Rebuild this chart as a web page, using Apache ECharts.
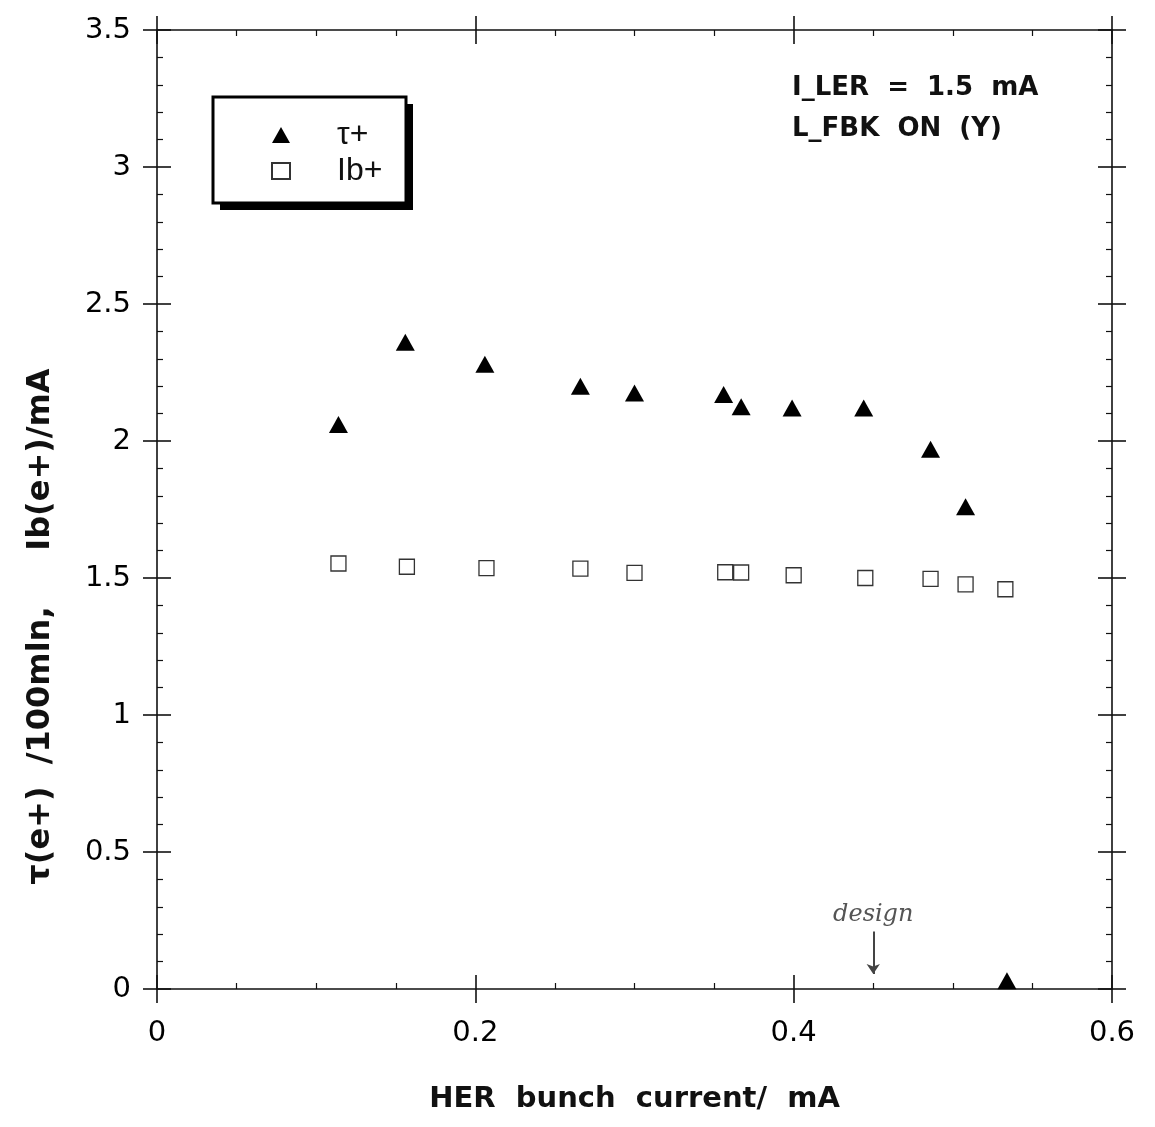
<!DOCTYPE html>
<html>
<head>
<meta charset="utf-8">
<script src="https://cdn.jsdelivr.net/npm/echarts@6/dist/echarts.min.js"></script>
<style>
  html, body { margin: 0; background: #fff; }
  #chart { width: 1155px; height: 1127px; }
</style>
</head>
<body>
<div id="chart"></div>
<script>
// tau(e+) per 100 min
const tauX = [0.114, 0.156, 0.206, 0.266, 0.300, 0.356, 0.367, 0.399, 0.444, 0.486, 0.508, 0.534]
const tauY = [2.06, 2.36, 2.28, 2.20, 2.175, 2.17, 2.125, 2.12, 2.12, 1.97, 1.76, 0.03]
// Ib(e+) / mA
const ibX = [0.114, 0.157, 0.207, 0.266, 0.300, 0.357, 0.367, 0.400, 0.445, 0.486, 0.508, 0.533]
const ibY = [1.553, 1.541, 1.536, 1.534, 1.519, 1.521, 1.520, 1.51, 1.50, 1.497, 1.477, 1.459]
// hand written "design" arrow
const designX = 0.45
const designArrow = [0.21, 0.055]

const ink = '#111'
const lineStyle = { color: ink, width: 1.6 }

function axisPair(dim, gridIndex, position, outer) {
  const isX = dim === 'x'
  return {
    type: 'value',
    gridIndex: gridIndex,
    position: position,
    min: 0,
    max: isX ? 0.6 : 3.5,
    interval: isX ? 0.2 : 0.5,
    axisLine: { show: !outer, onZero: false, lineStyle: lineStyle },
    axisTick: { show: true, inside: !outer, length: 14, lineStyle: lineStyle },
    minorTick: { show: !outer, splitNumber: isX ? 4 : 5, length: 6, lineStyle: { color: ink, width: 1.2 } },
    axisLabel: { show: false },
    splitLine: { show: false },
    minorSplitLine: { show: false }
  }
}

const chart = echarts.init(document.getElementById('chart'))

const xMain = axisPair('x', 0, 'bottom', false)
xMain.axisLabel = { show: true, margin: 30, fontSize: 29, fontFamily: 'DejaVu Sans', color: '#000' }
xMain.name = 'HER  bunch  current/  mA'
xMain.nameLocation = 'middle'
xMain.nameGap = 96
xMain.nameTextStyle = { fontSize: 29, fontWeight: 'bold', fontFamily: 'DejaVu Sans', color: ink }

const yMain = axisPair('y', 0, 'left', false)
yMain.axisLabel = { show: true, margin: 26, fontSize: 29, fontFamily: 'DejaVu Sans', color: '#000' }
yMain.name = 'τ(e+)  /100mln,     Ib(e+)/mA'
yMain.nameLocation = 'middle'
yMain.nameGap = 100
yMain.nameTextStyle = { fontSize: 32, fontWeight: 'bold', fontFamily: 'DejaVu Sans', color: ink, padding: [0, 234, 0, 0] }

chart.setOption({
  animation: false,
  backgroundColor: '#fff',
  grid: [
    { left: 157, right: 43, top: 30, bottom: 138 },
    { left: 157, right: 43, top: 30, bottom: 138 }
  ],
  xAxis: [
    xMain,
    axisPair('x', 0, 'top', false),
    axisPair('x', 1, 'bottom', true),
    axisPair('x', 1, 'top', true)
  ],
  yAxis: [
    yMain,
    axisPair('y', 0, 'right', false),
    axisPair('y', 1, 'left', true),
    axisPair('y', 1, 'right', true)
  ],
  legend: {
    orient: 'vertical',
    left: 266,
    top: 114,
    z: 10,
    itemWidth: 18,
    itemHeight: 16,
    itemGap: 4,
    data: [{ name: 'τ+', icon: 'triangle' }, { name: 'Ib+', icon: 'rect' }],
    textStyle: { fontSize: 32, fontFamily: 'Liberation Sans', color: ink, padding: [0, 0, 0, 42] }
  },
  graphic: [
    { type: 'rect', z: 1, shape: { x: 220, y: 104, width: 193, height: 106 }, style: { fill: '#000' } },
    { type: 'rect', z: 2, shape: { x: 213, y: 97, width: 193, height: 106 }, style: { fill: '#fff', stroke: '#000', lineWidth: 3 } },
    { type: 'text', z: 5, left: 792, top: 75, style: { text: 'I_LER  =  1.5  mA', font: 'bold 26px "DejaVu Sans"', fill: ink } },
    { type: 'text', z: 5, left: 792, top: 116, style: { text: 'L_FBK  ON  (Y)', font: 'bold 26px "DejaVu Sans"', fill: ink } }
  ],
  series: [
    {
      name: 'τ+',
      type: 'scatter',
      xAxisIndex: 0,
      yAxisIndex: 0,
      symbol: 'triangle',
      symbolSize: [19, 17],
      itemStyle: { color: '#000', opacity: 1 },
      data: tauX.map((x, i) => [x, tauY[i]])
    },
    {
      name: 'Ib+',
      type: 'scatter',
      xAxisIndex: 0,
      yAxisIndex: 0,
      symbol: 'rect',
      symbolSize: 15,
      itemStyle: { color: '#fff', borderColor: '#333', borderWidth: 1.3, opacity: 1 },
      data: ibX.map((x, i) => [x, ibY[i]]),
      markLine: {
        silent: true,
        symbol: ['none', 'arrow'],
        symbolSize: 10,
        lineStyle: { color: '#444', width: 2, type: 'solid' },
        label: {
          show: true,
          position: 'start',
          formatter: 'design',
          fontStyle: 'italic',
          fontFamily: 'DejaVu Serif',
          fontSize: 24,
          color: '#555'
        },
        data: [[{ coord: [designX, designArrow[0]] }, { coord: [designX, designArrow[1]] }]]
      }
    }
  ]
})
</script>
</body>
</html>
